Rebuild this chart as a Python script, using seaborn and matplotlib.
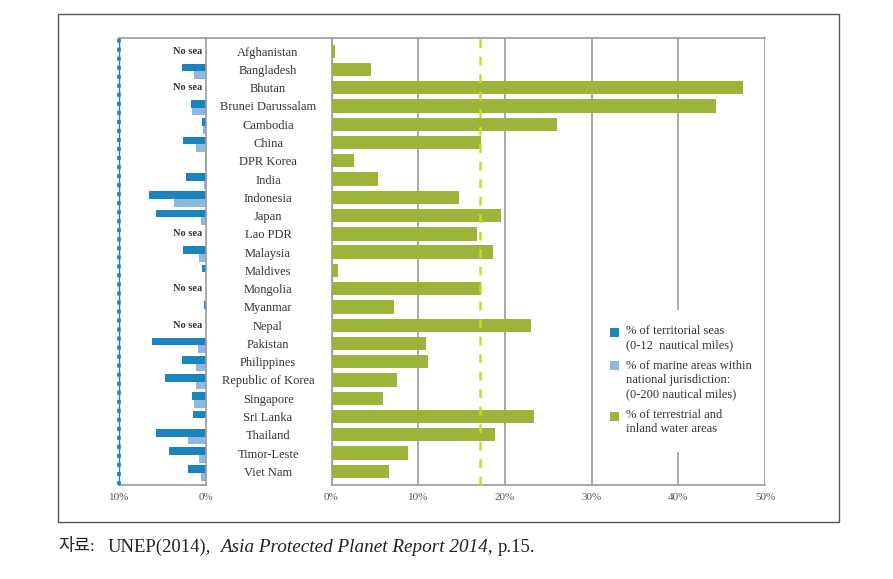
import numpy as np
import pandas as pd
import matplotlib
matplotlib.use("Agg")
import matplotlib.pyplot as plt
import seaborn as sns
from matplotlib.patches import Rectangle
from matplotlib.lines import Line2D

# ---------------- data ----------------
countries = ["Afghanistan", "Bangladesh", "Bhutan", "Brunei Darussalam", "Cambodia",
             "China", "DPR Korea", "India", "Indonesia", "Japan", "Lao PDR", "Malaysia",
             "Maldives", "Mongolia", "Myanmar", "Nepal", "Pakistan", "Philippines",
             "Republic of Korea", "Singapore", "Sri Lanka", "Thailand", "Timor-Leste",
             "Viet Nam"]
terrestrial = [0.45, 4.6, 47.5, 44.4, 26.0, 17.2, 2.6, 5.4, 14.7, 19.5, 16.8, 18.6,
               0.8, 17.3, 7.2, 23.0, 10.9, 11.1, 7.6, 5.9, 23.3, 18.9, 8.8, 6.6]
territorial = [np.nan, 2.8, np.nan, 1.7, 0.5, 2.6, 0.15, 2.3, 6.5, 5.7, np.nan, 2.6,
               0.45, np.nan, 0.25, np.nan, 6.2, 2.8, 4.75, 1.6, 1.5, 5.8, 4.3, 2.1]
marine_eez = [np.nan, 1.4, np.nan, 1.6, 0.3, 1.1, 0.1, 0.25, 3.7, 0.6, np.nan, 0.85,
              0.05, np.nan, 0.05, np.nan, 0.95, 1.15, 1.1, 1.4, 0.05, 2.1, 0.85, 0.6]
average_terrestrial = 17.1
left_ticks = [10, 0]
right_ticks = [0, 10, 20, 30, 40, 50]
series_names = ["% of territorial seas\n(0-12  nautical miles)",
                "% of marine areas within\nnational jurisdiction:\n(0-200 nautical miles)",
                "% of terrestrial and\ninland water areas"]
no_sea_label = "No sea"
caption_parts = ["자료:", "UNEP(2014),", "Asia Protected Planet Report 2014,", "p.15."]

# ---------------- style ----------------
sns.set_style("white")
plt.rcParams["font.family"] = ["Liberation Serif", "Noto Sans CJK KR", "DejaVu Sans"]

GREEN = "#9CB43A"
DARK = "#1A84BF"
LIGHT = "#8FB8E0"
YELLOW = "#C9DA2C"
GRID = "#9A9A9A"
TXT = "#333333"

W, H = 893, 579
fig = plt.figure(figsize=(W / 100, H / 100), dpi=100)
fig.patch.set_facecolor("white")

top_px, bot_px = 37.5, 485.0
axL = fig.add_axes([119 / W, 1 - bot_px / H, 87 / W, (bot_px - top_px) / H])
axR = fig.add_axes([331.5 / W, 1 - bot_px / H, 433.5 / W, (bot_px - top_px) / H])

# ---------------- marine (left) ----------------
df_m = pd.DataFrame({
    "country": countries * 2,
    "value": territorial + marine_eez,
    "series": [series_names[0]] * len(countries) + [series_names[1]] * len(countries),
})
sns.barplot(data=df_m, y="country", x="value", hue="series", orient="h",
            palette=[DARK, LIGHT], dodge=True, width=0.84, gap=0, saturation=1,
            legend=False, ax=axL, errorbar=None)
for p in axL.patches:
    p.set_y(p.get_y() + 0.1)
    p.set_linewidth(0)

axL.set_xlim(10, 0)
axL.set_ylim(len(countries) - 0.25, -0.75)
axL.set_xticks(left_ticks)
axL.set_xticklabels([f"{t}%" for t in left_ticks])
axL.set_yticks([])
axL.set_xlabel("")
axL.set_ylabel("")
for s in ["top", "right", "bottom"]:
    axL.spines[s].set_color(GRID)
    axL.spines[s].set_linewidth(1.2)
axL.spines["left"].set_color(DARK)
axL.spines["left"].set_linewidth(1.0)
axL.axvline(10, color=DARK, lw=2.6, ls=(0, (1.1, 1.4)), zorder=5, clip_on=False)
axL.tick_params(axis="x", length=0, pad=6, labelsize=8, labelcolor="#555555")

for i, t in enumerate(territorial):
    if np.isnan(t):
        axL.text(0.45, i, no_sea_label, ha="right", va="center", fontsize=7.5,
                 fontweight="bold", color=TXT)

# ---------------- terrestrial (right) ----------------
df_t = pd.DataFrame({"country": countries, "value": terrestrial})
sns.barplot(data=df_t, y="country", x="value", orient="h", color=GREEN, width=0.73,
            saturation=1, ax=axR, errorbar=None, zorder=3)
for p in axR.patches:
    p.set_linewidth(0)
axR.set_xlim(0, 50)
axR.set_ylim(len(countries) - 0.25, -0.75)
axR.set_xticks(right_ticks)
axR.set_xticklabels([f"{t}%" for t in right_ticks])
axR.set_xlabel("")
axR.set_ylabel("")
axR.grid(axis="x", color=GRID, lw=1.2, zorder=0)
axR.set_axisbelow(True)
for s in ["top", "left", "bottom"]:
    axR.spines[s].set_color(GRID)
    axR.spines[s].set_linewidth(1.2)
axR.spines["right"].set_visible(False)
axR.axvline(average_terrestrial, color=YELLOW, lw=1.8, ls=(0, (3.5, 3.5)), zorder=6)
axR.tick_params(axis="x", length=0, pad=6, labelsize=8, labelcolor="#555555")
axR.tick_params(axis="y", length=0, pad=45.7, labelsize=9, labelcolor=TXT)
for lbl in axR.get_yticklabels():
    lbl.set_ha("center")

# ---------------- legend (white box over grid) ----------------
fig.add_artist(Rectangle((594 / W, 1 - 452 / H), (764 - 594) / W, (452 - 310) / H,
                         facecolor="white", edgecolor="none", zorder=8))
legend_colors = [DARK, LIGHT, GREEN]
square_tops = [328, 361, 412]
first_line_centers = [331.7, 366.7, 416.0]
for col, sq, fl, name in zip(legend_colors, square_tops, first_line_centers, series_names):
    fig.add_artist(Rectangle((610 / W, 1 - (sq + 9) / H), 9 / W, 9 / H,
                             facecolor=col, edgecolor="none", zorder=9))
    fig.text(626 / W, 1 - (fl - 7) / H, name, fontsize=9, color=TXT, va="top",
             ha="left", linespacing=1.25, zorder=9)

# connecting top border over label column, outer frame
fig.add_artist(Line2D([206 / W, 331.5 / W], [1 - top_px / H, 1 - top_px / H],
                      color=GRID, lw=1.2))
fig.add_artist(Rectangle((58 / W, 1 - 522 / H), (839 - 58) / W, (522 - 14) / H,
                         fill=False, edgecolor="#555555", lw=1.0))

# caption
y = 1 - 547 / H
cap_x = [58, 108, 220, 498]
cap_style = ["normal", "normal", "italic", "normal"]
cap_size = [12.5, 13.4, 13.8, 13.4]
for part, xx, st, sz in zip(caption_parts, cap_x, cap_style, cap_size):
    fig.text(xx / W, y, part, fontsize=sz, style=st, va="center", ha="left",
             color="#222222")

fig.savefig("out.png", dpi=100, facecolor="white")
